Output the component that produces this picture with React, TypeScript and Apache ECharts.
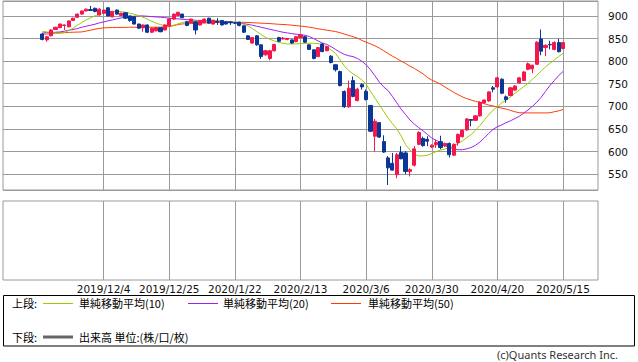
import React, { useEffect, useRef } from "react";
import * as echarts from "echarts";

const tradeDates = [
  "2019/11/14","2019/11/15","2019/11/18","2019/11/19","2019/11/20","2019/11/21","2019/11/22","2019/11/25","2019/11/26","2019/11/27","2019/11/28","2019/11/29",
  "2019/12/2","2019/12/3","2019/12/4","2019/12/5","2019/12/6","2019/12/9","2019/12/10","2019/12/11","2019/12/12","2019/12/13","2019/12/16","2019/12/17","2019/12/18","2019/12/19","2019/12/20","2019/12/23","2019/12/24","2019/12/25","2019/12/26","2019/12/27","2019/12/30",
  "2020/1/6","2020/1/7","2020/1/8","2020/1/9","2020/1/10","2020/1/14","2020/1/15","2020/1/16","2020/1/17","2020/1/20","2020/1/21","2020/1/22","2020/1/23","2020/1/24","2020/1/27","2020/1/28","2020/1/29","2020/1/30","2020/1/31",
  "2020/2/3","2020/2/4","2020/2/5","2020/2/6","2020/2/7","2020/2/10","2020/2/12","2020/2/13","2020/2/14","2020/2/17","2020/2/18","2020/2/19","2020/2/20","2020/2/21","2020/2/25","2020/2/26","2020/2/27","2020/2/28",
  "2020/3/2","2020/3/3","2020/3/4","2020/3/5","2020/3/6","2020/3/9","2020/3/10","2020/3/11","2020/3/12","2020/3/13","2020/3/16","2020/3/17","2020/3/18","2020/3/19","2020/3/23","2020/3/24","2020/3/25","2020/3/26","2020/3/27","2020/3/30","2020/3/31",
  "2020/4/1","2020/4/2","2020/4/3","2020/4/6","2020/4/7","2020/4/8","2020/4/9","2020/4/10","2020/4/13","2020/4/14","2020/4/15","2020/4/16","2020/4/17","2020/4/20","2020/4/21","2020/4/22","2020/4/23","2020/4/24","2020/4/27","2020/4/28","2020/4/30",
  "2020/5/1","2020/5/7","2020/5/8","2020/5/11","2020/5/12","2020/5/13","2020/5/14","2020/5/15",
];

const tickLabels = ["2019/12/4","2019/12/25","2020/1/22","2020/2/13","2020/3/6","2020/3/30","2020/4/20","2020/5/15"];
const priceTicks = [550, 600, 650, 700, 750, 800, 850, 900];

const opens = [860,847,856,870,874,879,876,890,897,904,911,914,917,902,906,918,898,913,901,907,900,898,882,874,880,864,867,874,869,878,893,901,904,887,885,887,880,885,895,882,888,890,887,887,885,886,878,856,840,856,836,814,806,823,852,849,848,847,843,852,854,836,825,810,838,823,811,792,777,733,699,757,713,748,733,702,634,664,622,586,574,549,598,597,556,570,616,629,627,610,615,622,613,618,592,620,633,648,671,669,679,708,712,741,743,760,721,724,736,752,757,782,783,793,849,830,837,826,841,828];
const closes = [848,854,869,875,882,880,889,895,904,911,915,912,910,915,913,900,910,904,906,895,890,882,873,880,864,873,874,865,880,893,904,908,896,879,893,869,890,893,884,890,886,880,882,885,884,879,864,848,852,836,810,823,823,837,844,851,850,840,854,858,842,826,806,830,821,832,797,781,746,699,740,722,738,743,715,645,667,632,599,564,559,593,584,556,560,606,642,613,623,614,620,609,618,593,616,638,647,672,669,679,709,714,732,738,763,729,715,741,745,763,776,794,791,842,822,835,836,841,821,841];
const lows = [846,843,855,869,873,869,875,889,896,903,910,911,908,901,905,899,897,903,900,893,887,881,871,865,862,862,866,864,868,877,892,900,895,877,884,859,879,884,883,881,880,879,881,880,882,877,862,847,838,834,805,812,802,821,842,848,846,838,842,851,840,825,804,809,820,822,795,777,744,697,697,720,711,737,713,643,600,630,597,526,558,541,583,550,545,567,614,611,612,608,608,605,610,587,590,613,631,646,656,668,677,706,710,731,741,727,708,722,734,750,756,780,773,792,813,811,826,824,819,826];
const highs = [862,855,870,876,883,881,890,896,905,912,916,922,918,917,914,919,911,914,907,908,901,899,883,881,881,874,875,875,881,894,905,909,905,889,894,889,891,894,896,891,895,891,889,888,887,887,879,857,853,857,837,825,825,838,854,853,851,848,855,859,856,837,826,831,840,834,813,793,779,735,757,766,741,751,737,703,672,665,636,590,597,597,612,601,563,612,645,633,634,616,626,635,620,620,618,640,648,674,672,680,711,715,733,745,765,762,724,743,747,765,778,797,792,844,870,837,845,844,849,842];

const ma10 = [866,864.6,863,861.7,861.7,863,867.6,872.7,879.4,885.3,891.2,895.6,900,903.7,905.9,908.1,909.6,910.3,909.6,908.1,905.9,903.7,900.7,897,892.6,888.2,883.8,880.8,878.6,877.9,879.4,882.3,885.3,887.5,889,889,889,889.7,890.4,891.2,889.7,888.2,886.7,885.3,884.5,883.8,881.6,877.9,872,865.4,858.7,852.8,848.4,844.7,841.8,839.5,838.1,838.1,838.1,838.8,839.5,839.5,839.5,838.8,835.6,832,824.6,817.3,804,789.4,779.2,771.9,766,758.7,749.2,733.1,718.4,703.8,689.2,674.5,662.1,650.4,634.3,616,603.5,594,590.4,590.4,591.8,596,599.7,603.4,605.6,608.6,613,617.5,623.4,630.8,637.5,647.1,657.5,669.3,681.2,691.5,698.9,707.8,713.8,721.2,728.6,736,743.4,750.8,759.7,768.6,778.2,787.1,795.2,802.6,810,817.4];
const ma20 = [862.4,863.1,863.5,863.9,864.6,866.1,868.3,869.8,872,875,877.2,879.4,881.6,884.5,886.7,889,891.2,893.4,895.6,897,898.5,899.3,900,900,899.3,898.5,897.8,897,896.3,894.8,894.1,893.4,892.6,891.9,891.2,890.4,889.7,889,888.6,888.2,887.8,887.5,886.7,886,885.3,884.2,883,881.2,879.4,877.2,875,872.7,870.5,868.3,866.1,863.9,862.4,860.9,859.5,858.7,857.3,854.3,849.9,844.7,840,837,832,826,820,815,812,810,806,800,792,781,768,754,743,735,722,708,694,682,670,661,653,646,638,630,625,620,613,609,606,604,604,606,609,614,621,630,640,649,655,659,664,668,673,678,685,692,700,709,720,733,746,757,768,777];
const ma50 = [859.5,860,861,862,862.5,863,863.5,864,864.2,864.6,866.5,868.5,870.5,872.5,873.5,874,874.2,874.5,874.5,874.7,875,875,875,875,875,875,875,875.2,875.5,876.4,878.5,881,882.3,882.5,883,883.5,884,884.5,885,885.3,885.5,885.7,886,886,886,886,885.8,885.5,885,884.5,884,883.5,883,882.3,881.5,881,880.5,879.5,878.5,877.5,876.5,875,873.5,871.5,870,868.5,867,865.5,863,860,857,854,851,846,842,838,834,829,823,817,811,806,800,795,789,784,778,772,764,758,754,749,743,737,731,726,721,717,714,711,709,706,703,701,698,696,694,691,688,686,685.5,685.5,685.5,685.5,685.5,685.5,685.8,688,690,693];

const PAD_BEFORE = 9;
const PAD_AFTER = 8;

const RED = "#f5164b";
const BLUE = "#0a3797";
const GRID_GRAY = "#9a9a9a";

export default function App() {
  const ref = useRef<HTMLDivElement | null>(null);

  useEffect(() => {
    if (!ref.current) return;
    const chart = echarts.init(ref.current, undefined, { renderer: "svg" });

    const categories: string[] = [];
    for (let i = 0; i < PAD_BEFORE; i++) categories.push("pb" + i);
    tradeDates.forEach((d) => categories.push(d));
    for (let i = 0; i < PAD_AFTER; i++) categories.push("pa" + i);

    const padB = Array(PAD_BEFORE).fill("-");
    const padA = Array(PAD_AFTER).fill("-");
    const candles = tradeDates.map((_, i) => [opens[i], closes[i], lows[i], highs[i]]);
    const candleData = [
      ...padB.map(() => ["-", "-", "-", "-"]),
      ...candles,
      ...padA.map(() => ["-", "-", "-", "-"]),
    ];
    const pad = (arr: number[]) => [...padB, ...arr, ...padA];

    const tickSet = new Set(tickLabels);
    const isTick = (_idx: number, val: string) => tickSet.has(val);

    const font = '"Noto Sans CJK JP", "Noto Sans", sans-serif';
    const lineSeries = (name: string, data: number[], color: string) => ({
      name,
      type: "line",
      xAxisIndex: 0,
      yAxisIndex: 0,
      data: pad(data),
      showSymbol: false,
      symbol: "none",
      connectNulls: false,
      lineStyle: { color, width: 1 },
      itemStyle: { color },
      z: 3,
    });

    const legendText = (text: string, x: number, y: number) => ({
      type: "text",
      x,
      y,
      style: { text, fill: "#000", fontSize: 11, fontFamily: font, verticalAlign: "middle", align: "left" },
    });
    const legendLine = (x1: number, x2: number, y: number, stroke: string, w: number) => ({
      type: "line",
      shape: { x1, y1: y, x2, y2: y },
      style: { stroke, lineWidth: w },
    });

    const option: any = {
      animation: false,
      backgroundColor: "#ffffff",
      grid: [
        { left: 3, right: 40, top: 1, height: 189, show: true, borderColor: GRID_GRAY, borderWidth: 1, backgroundColor: "transparent" },
        { left: 3, right: 40, top: 201, height: 79, show: true, borderColor: GRID_GRAY, borderWidth: 1, backgroundColor: "transparent" },
      ],
      xAxis: [
        {
          type: "category",
          gridIndex: 0,
          data: categories,
          boundaryGap: false,
          axisLine: { show: false },
          axisTick: { show: false },
          axisLabel: { show: false },
          splitLine: { show: true, interval: isTick, lineStyle: { color: GRID_GRAY, width: 1 } },
        },
        {
          type: "category",
          gridIndex: 1,
          data: categories,
          boundaryGap: false,
          axisLine: { show: false },
          axisTick: { show: false },
          axisLabel: {
            show: true,
            interval: isTick,
            margin: 3,
            fontSize: 10.5,
            fontFamily: "DejaVu Sans",
            color: "#111",
          },
          splitLine: { show: true, interval: isTick, lineStyle: { color: GRID_GRAY, width: 1 } },
        },
      ],
      yAxis: [
        {
          type: "value",
          gridIndex: 0,
          position: "right",
          min: 515,
          max: 933,
          splitNumber: 8,
          minInterval: 50,
          maxInterval: 50,
          axisLine: { show: false },
          axisTick: { show: false },
          axisLabel: {
            margin: 10,
            showMinLabel: false,
            showMaxLabel: false,
            fontSize: 10.5,
            fontFamily: "DejaVu Sans",
            color: "#111",
            formatter: (v: number) => (priceTicks.indexOf(v) >= 0 ? String(v) : ""),
          },
          splitLine: { show: true, lineStyle: { color: GRID_GRAY, width: 1 } },
        },
        {
          type: "value",
          gridIndex: 1,
          min: 0,
          max: 1,
          axisLine: { show: false },
          axisTick: { show: false },
          axisLabel: { show: false },
          splitLine: { show: false },
        },
      ],
      series: [
        lineSeries("MA50", ma50, "#ff3c00"),
        lineSeries("MA20", ma20, "#a020f0"),
        lineSeries("MA10", ma10, "#99cc00"),
        {
          name: "price",
          type: "candlestick",
          xAxisIndex: 0,
          yAxisIndex: 0,
          data: candleData,
          barWidth: 3.6,
          itemStyle: { color: RED, color0: BLUE, borderColor: RED, borderColor0: BLUE, borderWidth: 1 },
          z: 4,
        },
      ],
      graphic: [
        {
          type: "rect",
          shape: { x: 3.5, y: 295.5, width: 631, height: 50.5 },
          style: { fill: "none", stroke: "#000", lineWidth: 1 },
        },
        legendText("上段:", 12, 303),
        legendLine(43, 73, 303.5, "#99cc00", 1),
        legendText("単純移動平均(10)", 79, 303),
        legendLine(188, 218, 303.5, "#a020f0", 1),
        legendText("単純移動平均(20)", 223, 303),
        legendLine(331, 361, 303.5, "#ff3c00", 1),
        legendText("単純移動平均(50)", 368, 303),
        legendText("下段:", 12, 337),
        legendLine(43, 73, 337, "#666666", 3),
        legendText("出来高 単位:(株/口/枚)", 79, 337),
        {
          type: "text",
          x: 618,
          y: 354.5,
          style: {
            text: "(c)Quants Research Inc.",
            fill: "#333",
            fontSize: 11,
            fontFamily: '"Noto Sans", sans-serif',
            align: "right",
            verticalAlign: "middle",
          },
        },
      ],
    };

    chart.setOption(option);
    return () => chart.dispose();
  }, []);

  return (
    <div
      ref={ref}
      style={{ position: "fixed", left: 0, top: 0, width: 638, height: 362, background: "#fff" }}
    />
  );
}
